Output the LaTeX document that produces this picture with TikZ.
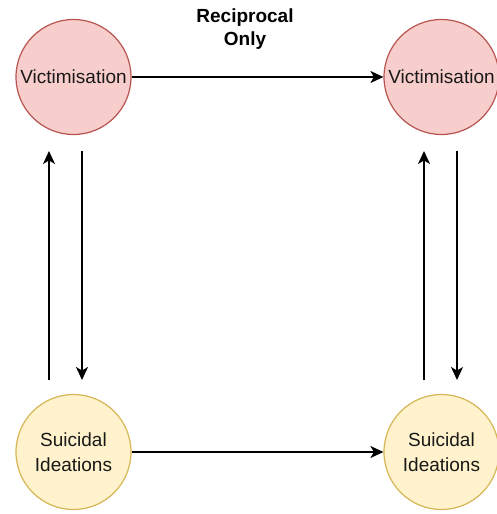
\documentclass[tikz,border=0pt]{standalone}
\usepackage{fontspec}
\setmainfont{Liberation Sans}
\usetikzlibrary{arrows.meta}
\begin{document}
\begin{tikzpicture}[x=1pt,y=-1pt,
  state/.style={circle, minimum size=115pt, inner sep=0pt, line width=1.2pt,
    font=\fontsize{19}{25}\selectfont, align=center, text=black!90},
  victim/.style={state, draw={rgb,255:red,184;green,84;blue,80}, fill={rgb,255:red,248;green,206;blue,204}},
  ideation/.style={state, draw={rgb,255:red,214;green,182;blue,86}, fill={rgb,255:red,255;green,242;blue,204}},
  link/.style={line width=1.4pt, -{Stealth[length=13pt,width=12pt,inset=3.5pt]}},
  title/.style={font=\fontsize{19}{23}\selectfont\bfseries, align=center}
]
\useasboundingbox (0,0) rectangle (496,514);

\node[title] (head) at (245,29) {Reciprocal\\Only};

\node[victim] (v1) at (73.5,77) {Victimisation};
\node[victim] (v2) at (441.5,77) {Victimisation};
\node[ideation] (s1) at (73.5,452) {Suicidal\\Ideations};
\node[ideation] (s2) at (441.5,452) {Suicidal\\Ideations};

% cross-lagged paths over time
\draw[link] (v1) -- (v2);
\draw[link] (s1) -- (s2);

% within-wave reciprocal paths
\coordinate (a1) at (49,380);  \coordinate (a2) at (49,151);
\coordinate (b1) at (82,151);  \coordinate (b2) at (82,380);
\coordinate (c1) at (424,380); \coordinate (c2) at (424,151);
\coordinate (d1) at (457,151); \coordinate (d2) at (457,380);
\draw[link] (a1) -- (a2);
\draw[link] (b1) -- (b2);
\draw[link] (c1) -- (c2);
\draw[link] (d1) -- (d2);
\end{tikzpicture}
\end{document}
